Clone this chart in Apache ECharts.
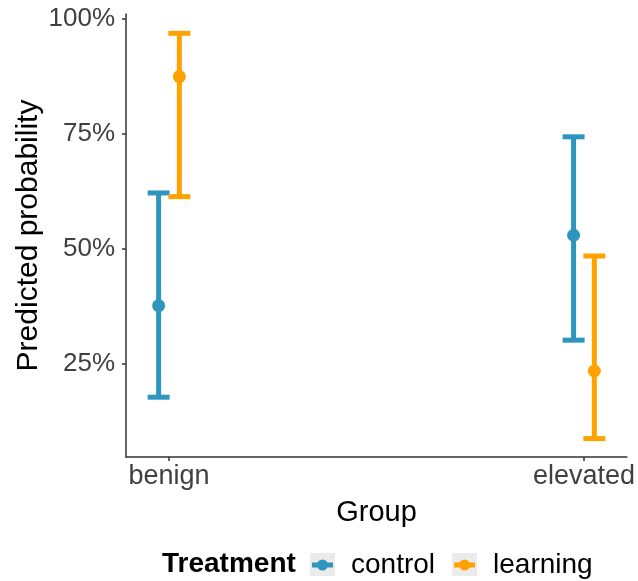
<!DOCTYPE html>
<html>
<head>
<meta charset="utf-8">
<script src="https://cdn.jsdelivr.net/npm/echarts@6/dist/echarts.min.js"></script>
<style>
  html, body { margin: 0; padding: 0; background: #ffffff; }
  #chart { width: 638px; height: 581px; }
</style>
</head>
<body>
<div id="chart"></div>
<script>
// Predicted probability by group and treatment, with confidence intervals
const groups = ['benign', 'elevated'];
const treatments = ['control', 'learning'];
const controlEstimate = [0.377, 0.530];
const controlLower    = [0.178, 0.302];
const controlUpper    = [0.622, 0.744];
const learningEstimate = [0.875, 0.235];
const learningLower    = [0.614, 0.088];
const learningUpper    = [0.969, 0.485];
const yTicks = [0.25, 0.5, 0.75, 1.0];

const colors = { control: '#2E96BE', learning: '#FFA200' };
const dodge = { control: -0.025, learning: 0.025 };
const capHalf = 11;
const barWidth = 5;
const fontFamily = 'Liberation Sans, Arial, sans-serif';

function barData(lower, upper, name) {
  return groups.map((g, i) => [i + 1 + dodge[name], lower[i], upper[i]]);
}
function pointData(est, name) {
  return groups.map((g, i) => [i + 1 + dodge[name], est[i]]);
}

function makeErrorRenderer(color) {
  return function (params, api) {
    const x = api.value(0);
    const lo = api.coord([x, api.value(1)]);
    const hi = api.coord([x, api.value(2)]);
    const style = { stroke: color, lineWidth: barWidth, lineCap: 'butt' };
    return {
      type: 'group',
      children: [
        { type: 'line', shape: { x1: lo[0], y1: lo[1], x2: hi[0], y2: hi[1] }, style },
        { type: 'line', shape: { x1: hi[0] - capHalf, y1: hi[1], x2: hi[0] + capHalf, y2: hi[1] }, style },
        { type: 'line', shape: { x1: lo[0] - capHalf, y1: lo[1], x2: lo[0] + capHalf, y2: lo[1] }, style }
      ]
    };
  };
}

// legend key: horizontal bar with a dot in the middle
const keyIcon = 'path://M2,9H23V14H2Z M7,11.5A5.5,5.5,0,1,1,18,11.5A5.5,5.5,0,1,1,7,11.5Z';

const chart = echarts.init(document.getElementById('chart'), null, { renderer: 'canvas' });
chart.setOption({
  animation: false,
  backgroundColor: '#ffffff',
  textStyle: { fontFamily },
  grid: { left: 126, right: 11, top: 14, bottom: 124, containLabel: false },
  xAxis: {
    type: 'value',
    min: 0.8964,
    max: 2.1036,
    name: 'Group',
    nameLocation: 'middle',
    nameGap: 41,
    nameMoveOverlap: false,
    nameTextStyle: { fontSize: 29, color: '#000000', fontFamily },
    splitLine: { show: false },
    axisLine: { show: true, onZero: false, lineStyle: { color: '#333333', width: 1.5 } },
    axisTick: { show: true, length: 4, customValues: [1, 2], lineStyle: { color: '#333333', width: 1.5 } },
    axisLabel: {
      customValues: [1, 2],
      formatter: v => groups[Math.round(v) - 1],
      fontSize: 27,
      color: '#404040',
      margin: 6
    }
  },
  yAxis: {
    type: 'value',
    min: 0.048,
    max: 1.011,
    name: 'Predicted probability',
    nameLocation: 'middle',
    nameGap: 82,
    nameMoveOverlap: false,
    nameTextStyle: { fontSize: 30, color: '#000000', fontFamily },
    splitLine: { show: false },
    axisLine: { show: true, onZero: false, lineStyle: { color: '#333333', width: 1.5 } },
    axisTick: { show: true, length: 4, customValues: yTicks, lineStyle: { color: '#333333', width: 1.5 } },
    axisLabel: {
      customValues: yTicks,
      formatter: v => Math.round(v * 100) + '%',
      fontSize: 26,
      color: '#404040',
      margin: 11
    }
  },
  legend: {
    left: 307,
    top: 546,
    orient: 'horizontal',
    itemWidth: 21,
    itemHeight: 11,
    itemGap: 19,
    selectedMode: false,
    textStyle: { fontSize: 28, color: '#000000', padding: [0, 0, 0, 13] },
    data: treatments.map(t => ({ name: t, icon: keyIcon, itemStyle: { color: colors[t] } }))
  },
  graphic: [
    { type: 'text', left: 162, top: 550, z: 10,
      style: { text: 'Treatment', fontSize: 28, fontWeight: 'bold', fill: '#000000', fontFamily } },
    { type: 'rect', left: 310, top: 553, z: -1, shape: { width: 25, height: 23 }, style: { fill: '#EBEBEB' } },
    { type: 'rect', left: 452, top: 553, z: -1, shape: { width: 25, height: 23 }, style: { fill: '#EBEBEB' } }
  ],
  series: [
    {
      name: 'control', type: 'custom', renderItem: makeErrorRenderer(colors.control),
      itemStyle: { color: colors.control },
      data: barData(controlLower, controlUpper, 'control'), z: 2
    },
    {
      name: 'learning', type: 'custom', renderItem: makeErrorRenderer(colors.learning),
      itemStyle: { color: colors.learning },
      data: barData(learningLower, learningUpper, 'learning'), z: 2
    },
    {
      name: 'control', type: 'scatter', symbol: 'circle', symbolSize: 13,
      itemStyle: { color: colors.control, opacity: 1 },
      data: pointData(controlEstimate, 'control'), z: 3
    },
    {
      name: 'learning', type: 'scatter', symbol: 'circle', symbolSize: 13,
      itemStyle: { color: colors.learning, opacity: 1 },
      data: pointData(learningEstimate, 'learning'), z: 3
    }
  ]
});
</script>
</body>
</html>
